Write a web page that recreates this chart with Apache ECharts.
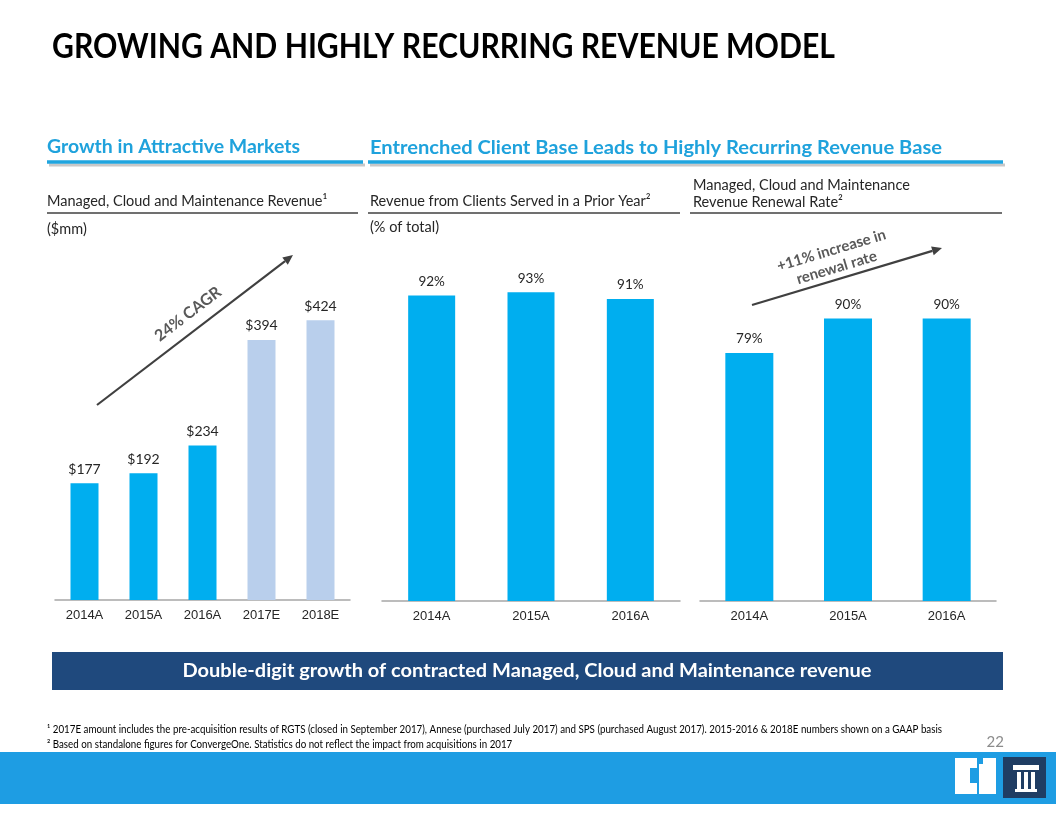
<!DOCTYPE html>
<html>
<head>
<meta charset="utf-8">
<script src="https://cdn.jsdelivr.net/npm/echarts@6/dist/echarts.min.js"></script>
<style>
html,body{margin:0;padding:0;background:#fff;}
#main{width:1056px;height:816px;}
</style>
</head>
<body>
<div id="main"></div>
<script>
// ---- data ----
const revenueCategories = ['2014A', '2015A', '2016A', '2017E', '2018E'];
const revenueValues = [177, 192, 234, 394, 424];
const priorYearCategories = ['2014A', '2015A', '2016A'];
const priorYearShare = [92, 93, 91];
const renewalCategories = ['2014A', '2015A', '2016A'];
const renewalRate = [79, 90, 90];

// ---- styles ----
const FONT = 'Lato, "Noto Sans", sans-serif';
const AXISFONT = '"Liberation Sans", Arial, sans-serif';
const BLUE = '#00aeef';
const LIGHT = '#b9cfec';
const HEAD = '#1fa2dc';
const DARK = '#262626';

const cv = document.createElement('canvas').getContext('2d');
function measure(text, weight, size, family) {
  cv.font = weight + ' ' + size + 'px ' + family;
  return cv.measureText(text).width;
}

const chart = echarts.init(document.getElementById('main'));

function axisX(idx, data) {
  return {
    type: 'category', gridIndex: idx, data: data,
    axisLine: {lineStyle: {color: '#a6a6a6', width: 1.5}},
    axisTick: {show: false},
    axisLabel: {color: DARK, fontFamily: AXISFONT, fontSize: 13, margin: 9}
  };
}
function axisY(idx, max) {
  return {type: 'value', gridIndex: idx, min: 0, max: max, show: false, splitLine: {show: false}};
}
function barLabel(fmt, size) {
  return {show: true, position: 'top', distance: 7, color: DARK, fontFamily: FONT, fontSize: size, formatter: fmt};
}

function arrow(x1, y1, x2, y2, color) {
  const a = Math.atan2(y2 - y1, x2 - x1);
  const L = 10, W = 4.5;
  const bx = x2 - L * Math.cos(a), by = y2 - L * Math.sin(a);
  const px = -Math.sin(a) * W, py = Math.cos(a) * W;
  return [
    {type: 'line', shape: {x1: x1, y1: y1, x2: bx, y2: by}, style: {stroke: color, lineWidth: 2.2}},
    {type: 'polygon', shape: {points: [[x2, y2], [bx + px, by + py], [bx - px, by - py]]}, style: {fill: color}}
  ];
}

const titleText = 'GROWING AND HIGHLY RECURRING REVENUE MODEL';
const head1 = 'Growth in Attractive Markets';
const head2 = 'Entrenched Client Base Leads to Highly Recurring Revenue Base';
const banner = 'Double-digit growth of contracted Managed, Cloud and Maintenance revenue';
const foot1 = '\u00b9 2017E amount includes the pre-acquisition results of RGTS (closed in September 2017), Annese (purchased July 2017) and SPS (purchased August 2017). 2015-2016 & 2018E numbers shown on a GAAP basis';
const foot2 = '\u00b2 Based on standalone figures for ConvergeOne. Statistics do not reflect the impact from acquisitions in 2017';

const gfx = [];
function txt(x, y, text, opt) {
  gfx.push({type: 'text', x: x, y: y, rotation: opt.rotation || 0, scaleX: opt.scaleX || 1, z: 10,
    style: Object.assign({text: text, fontFamily: FONT, fill: DARK, align: 'left', verticalAlign: 'middle'}, opt.style)});
}
// text squeezed horizontally to a measured width (condensed face emulation)
function ftxt(x, y, text, weight, size, width, style, align) {
  const sx = width / measure(text, weight, size, FONT);
  txt(x, y, text, {scaleX: sx, style: Object.assign({fontWeight: weight, fontSize: size, align: align || 'left'}, style)});
}
function rect(x, y, w, h, fill, z) {
  gfx.push({type: 'rect', shape: {x: x, y: y, width: w, height: h}, style: {fill: fill}, z: z || 1});
}
function hline(x1, x2, y, color, w, z) {
  gfx.push({type: 'line', shape: {x1: x1, y1: y, x2: x2, y2: y}, style: {stroke: color, lineWidth: w}, z: z || 1});
}

// title
ftxt(52, 47, titleText, 'bold', 35, 783, {fill: '#000'});
// section headers
ftxt(47, 147, head1, 'bold', 19.5, 253, {fill: HEAD});
ftxt(370, 148, head2, 'bold', 19.5, 572, {fill: HEAD});
hline(49, 365, 165, '#c8c8c8', 3);
hline(370, 1005, 165, '#c8c8c8', 3);
hline(47, 363, 162, '#1fa5df', 3.5, 2);
hline(368, 1003, 162, '#1fa5df', 3.5, 2);
// sub titles
txt(47, 201, 'Managed, Cloud and Maintenance Revenue\u00b9', {style: {fontSize: 14.5}});
txt(47, 229, '($mm)', {style: {fontSize: 14.5}});
hline(47, 358, 213, '#404040', 1.5);
txt(370, 201, 'Revenue from Clients Served in a Prior Year\u00b2', {style: {fontSize: 14.5}});
txt(370, 227, '(% of total)', {style: {fontSize: 14.5}});
hline(368, 680, 213, '#404040', 1.5);
txt(693, 185, 'Managed, Cloud and Maintenance', {style: {fontSize: 14.5}});
txt(693, 202, 'Revenue Renewal Rate\u00b2', {style: {fontSize: 14.5}});
hline(690, 1002, 213, '#404040', 1.5);

// arrows + annotations
arrow(97, 405, 293, 255, '#404040').forEach(g => gfx.push(g));
txt(188, 314, '24% CAGR', {rotation: Math.atan2(150, 196), style: {align: 'center', fontWeight: 'bold', fill: '#595959', fontSize: 16}});
arrow(752, 305, 942, 248, '#404040').forEach(g => gfx.push(g));
txt(834, 259, '+11% increase in\nrenewal rate', {rotation: Math.atan2(57, 190), style: {align: 'center', fontWeight: 'bold', fill: '#595959', fontSize: 15, lineHeight: 18}});

// banner
rect(52, 652, 951, 38, '#1f497d');
ftxt(527, 671, banner, 'bold', 19, 689, {fill: '#fff'}, 'center');

// footnotes
const fsx = 895 / measure(foot1, 'normal', 10.5, FONT);
txt(47, 730, foot1, {scaleX: fsx, style: {fontSize: 10.5, fill: '#000'}});
txt(47, 745, foot2, {scaleX: fsx, style: {fontSize: 10.5, fill: '#000'}});
txt(1004, 742, '22', {style: {align: 'right', fontSize: 15, fill: '#8c8c8c'}});

// bottom band and logo
rect(0, 752, 1056, 52, '#1e9de3');
rect(955, 758, 22, 36, '#ffffff', 3);
rect(970, 768, 7, 15, '#1e9de3', 4);
rect(979, 758, 17, 36, '#ffffff', 3);
rect(979, 758, 4, 6, '#1e9de3', 4);
rect(1003, 757, 43, 41, '#1f3d63', 3);
rect(1013, 765, 26, 5, '#ffffff', 4);
rect(1017, 772, 4, 17, '#ffffff', 4);
rect(1024, 772, 4, 17, '#ffffff', 4);
rect(1031, 772, 4, 17, '#ffffff', 4);
rect(1015, 789, 22, 3, '#ffffff', 4);

chart.setOption({
  animation: false,
  grid: [
    {left: 55, width: 295, top: 303, bottom: 216},
    {left: 382, width: 298, top: 269, bottom: 215},
    {left: 700, width: 296, top: 287, bottom: 215}
  ],
  xAxis: [axisX(0, revenueCategories), axisX(1, priorYearCategories), axisX(2, renewalCategories)],
  yAxis: [axisY(0, 450), axisY(1, 100), axisY(2, 100)],
  series: [
    {type: 'bar', xAxisIndex: 0, yAxisIndex: 0, data: revenueValues, barWidth: 28,
      itemStyle: {color: p => (revenueCategories[p.dataIndex].endsWith('E') ? LIGHT : BLUE)},
      label: barLabel('${c}', 14)},
    {type: 'bar', xAxisIndex: 1, yAxisIndex: 1, data: priorYearShare, barWidth: 47,
      itemStyle: {color: BLUE}, label: barLabel('{c}%', 13.5)},
    {type: 'bar', xAxisIndex: 2, yAxisIndex: 2, data: renewalRate, barWidth: 48,
      itemStyle: {color: BLUE}, label: barLabel('{c}%', 13.5)}
  ],
  graphic: gfx
});
</script>
</body>
</html>
